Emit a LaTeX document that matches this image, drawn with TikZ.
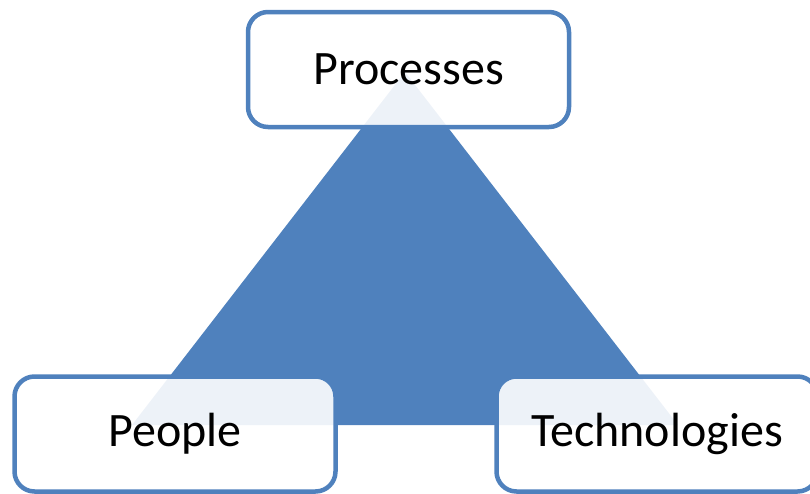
\documentclass[tikz,border=0pt]{standalone}
\usepackage{fontspec}
\setmainfont{Carlito}
\usetikzlibrary{positioning}
\definecolor{accent}{HTML}{4F81BD}
\begin{document}
\begin{tikzpicture}[x=1pt, y=-1pt,
    box node/.style={draw=accent, line width=4.5pt, rounded corners=20pt, fill=white, fill opacity=0.9, text opacity=1,
      minimum width=321pt, minimum height=115pt, font=\fontsize{48}{52}\selectfont}]
  \useasboundingbox (0,0) rectangle (810,493);
  \clip (0,0) rectangle (810,493);

  % triangle behind the boxes
  \coordinate (apex) at (405,72);
  \coordinate (base left) at (132,425);
  \coordinate (base right) at (678,425);
  \fill[accent] (apex) -- (base left) -- (base right) -- cycle;

  \node[box node] (processes) at (408.5,69.5) {Processes};
  \node[box node] (people) at (175,434) {People};
  \node[box node] (technologies) at (657,434) {Technologies};
\end{tikzpicture}
\end{document}
